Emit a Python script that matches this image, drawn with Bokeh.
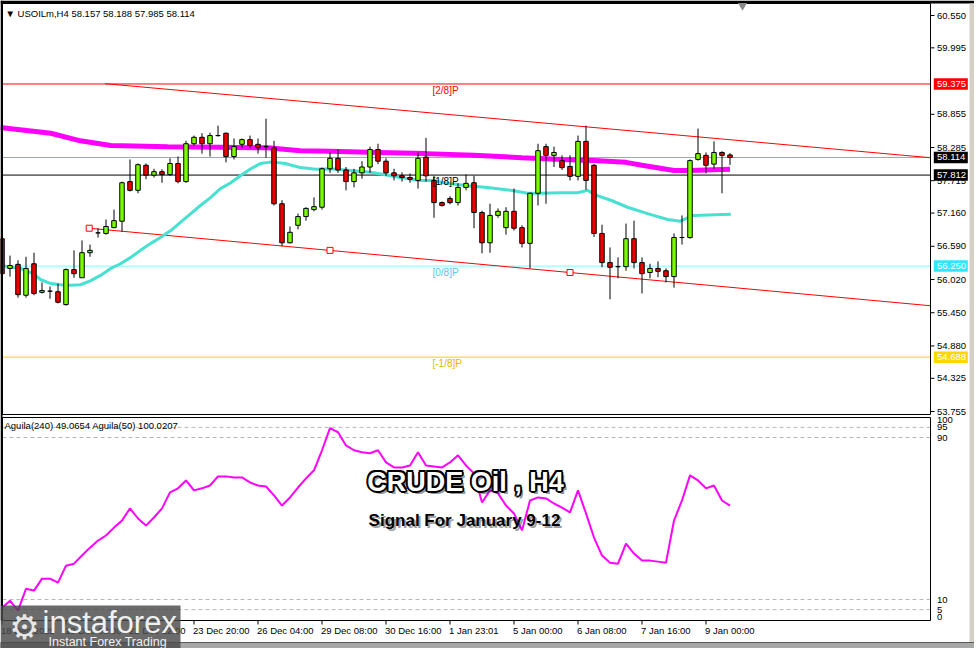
from bokeh.plotting import figure
from bokeh.models import Range1d, ColumnDataSource
from bokeh.core.properties import value
from bokeh.embed import file_html
from bokeh.resources import INLINE

# ---------------- data ----------------
opens = [56.72, 56.21, 56.28, 55.75, 56.29, 55.80, 55.82, 55.81, 55.59, 56.19,
         56.05, 56.48, 56.82, 56.81, 56.91, 57.02, 57.70, 57.55, 57.98, 57.81,
         57.87, 57.82, 58.01, 57.70, 58.35, 58.46, 58.35, 58.49, 58.53, 58.13,
         58.34, 58.42, 58.34, 58.30, 58.28, 57.32, 56.65, 56.95, 57.10, 57.22,
         57.26, 57.92, 58.10, 57.90, 57.70, 57.85, 57.95, 58.25, 58.05, 57.85,
         57.80, 57.77, 57.72, 58.12, 57.72, 57.34, 57.41, 57.34, 57.60, 57.68,
         57.17, 56.65, 57.12, 56.91, 57.19, 56.91, 56.64, 57.50, 58.30, 58.15,
         58.06, 57.96, 57.79, 58.39, 57.98, 56.81, 56.31, 56.24, 56.24, 56.72,
         56.31, 56.14, 56.21, 56.17, 56.07, 56.74, 56.74, 58.08, 58.15, 58.00,
         58.20, 58.157]
highs = [56.80, 56.43, 56.35, 56.41, 56.48, 55.97, 55.90, 55.95, 56.21, 56.52,
         56.69, 56.62, 56.90, 57.05, 57.22, 57.70, 58.08, 58.01, 58.01, 57.92,
         57.91, 58.10, 58.13, 58.40, 58.49, 58.53, 58.54, 58.66, 58.54, 58.44,
         58.44, 58.49, 58.44, 58.78, 58.40, 57.38, 56.93, 57.15, 57.26, 57.43,
         57.94, 58.20, 58.25, 57.95, 57.92, 58.05, 58.30, 58.35, 58.10, 57.92,
         57.86, 57.84, 58.20, 58.45, 57.80, 57.36, 57.45, 57.67, 57.82, 57.80,
         57.20, 57.32, 57.24, 57.26, 57.58, 56.95, 57.51, 58.35, 58.35, 58.30,
         58.15, 58.15, 58.49, 58.66, 58.00, 56.96, 56.57, 56.40, 56.98, 57.03,
         56.40, 56.29, 56.33, 56.21, 56.81, 57.12, 58.08, 58.61, 58.20, 58.39,
         58.22, 58.188]
lows = [56.05, 56.07, 55.71, 55.71, 55.75, 55.78, 55.69, 55.61, 55.57, 56.05,
        56.05, 56.41, 56.74, 56.79, 56.90, 56.84, 57.53, 57.50, 57.74, 57.77,
        57.68, 57.80, 57.67, 57.68, 58.32, 58.18, 58.13, 58.47, 58.03, 58.08,
        58.28, 58.27, 58.18, 58.11, 57.29, 56.59, 56.64, 56.88, 57.03, 57.19,
        57.22, 57.85, 57.85, 57.55, 57.60, 57.75, 57.85, 58.00, 57.80, 57.72,
        57.70, 57.68, 57.58, 57.70, 57.08, 57.27, 57.31, 57.29, 57.55, 56.90,
        56.47, 56.48, 57.08, 56.79, 56.86, 56.57, 56.21, 57.29, 57.32, 57.95,
        57.90, 57.72, 57.72, 57.56, 56.75, 56.23, 55.68, 56.04, 56.17, 56.21,
        55.78, 56.04, 56.06, 55.97, 55.88, 56.62, 56.72, 58.06, 57.84, 57.92,
        57.50, 57.985]
closes = [56.12, 56.26, 55.76, 56.21, 55.78, 55.83, 55.82, 55.63, 56.19, 56.12,
          56.48, 56.52, 56.82, 56.93, 57.03, 57.68, 57.55, 57.99, 57.81, 57.87,
          57.82, 58.01, 57.70, 58.35, 58.46, 58.35, 58.49, 58.49, 58.13, 58.30,
          58.42, 58.32, 58.28, 58.30, 57.32, 56.65, 56.83, 57.10, 57.24, 57.27,
          57.92, 58.10, 57.90, 57.70, 57.85, 57.95, 58.25, 58.05, 57.85, 57.80,
          57.77, 57.74, 58.10, 57.80, 57.34, 57.29, 57.34, 57.60, 57.67, 57.17,
          56.65, 57.12, 57.19, 57.19, 56.90, 56.64, 57.50, 58.23, 58.15, 58.20,
          57.94, 57.79, 58.39, 57.72, 56.81, 56.31, 56.23, 56.24, 56.72, 56.31,
          56.12, 56.21, 56.16, 56.07, 56.74, 56.74, 58.06, 58.18, 57.98, 58.20,
          58.15, 58.114]

# slow moving average (magenta) read at bar positions
ma_slow_x = [-0.2, 6.1, 9.8, 13.6, 20.7, 27.0, 33.2, 37.3, 41.1, 47.0, 53.0,
             59.0, 65.0, 70.0, 74.0, 78.0, 80.0, 84.0, 86.0, 91.0]
ma_slow_y = [58.63, 58.53, 58.40, 58.32, 58.30, 58.29, 58.28, 58.23, 58.22, 58.20, 58.18,
             58.15, 58.11, 58.08, 58.06, 58.03, 57.98, 57.89, 57.89, 57.91]
# fast moving average (turquoise)
ma_fast_x = [-0.2, 2.3, 3.9, 4.8, 6.1, 7.3, 8.6, 9.8, 11.1, 12.3, 13.6, 14.8, 16.1,
             17.3, 18.6, 19.8, 21.1, 22.3, 23.6, 24.8, 26.1, 27.3, 28.6, 29.8, 31.1,
             32.3, 33.3, 34.2, 35.4, 37.3, 39.2, 41.1, 43.6, 46.1, 48.6, 49.8, 52.3,
             53.9, 55.2, 58.2, 60.7, 63.6, 65.7, 67.3, 69.8, 71.9, 73.2, 74.4, 76.1,
             78.2, 80.7, 83.2, 84.8, 86.4, 91.1]
ma_fast_y = [56.26, 56.21, 56.12, 56.02, 55.95, 55.93, 55.92, 55.93, 56.00, 56.09, 56.21,
             56.29, 56.40, 56.52, 56.64, 56.74, 56.86, 57.00, 57.15, 57.29, 57.43, 57.58,
             57.68, 57.80, 57.92, 58.01, 58.03, 58.03, 58.01, 57.94, 57.91, 57.92, 57.89,
             57.86, 57.80, 57.77, 57.72, 57.72, 57.68, 57.63, 57.60, 57.55, 57.50, 57.50,
             57.51, 57.51, 57.55, 57.46, 57.38, 57.26, 57.15, 57.05, 57.02, 57.12, 57.14]

chan_up_x = [12.9, 116.06]
chan_up_y = [59.38, 58.11]
chan_lo_x = [10.9, 116.06]
chan_lo_y = [56.90, 55.57]
chan_mark_x = [10.9, 41.0, 71.0]
chan_mark_y = [56.90, 56.52, 56.14]

level_values = [59.375, 57.812, 56.250, 54.688]
level_names = ["[2/8]P", "[1/8]P", "[0/8]P", "[-1/8]P"]
bid_price = 58.114

price_ticks = [60.550, 59.995, 58.855, 58.285, 57.715, 57.160, 56.590,
               56.020, 55.450, 54.880, 54.325, 53.755]

aguila = [5.9, 9.4, 4.5, 15.3, 14.4, 20.3, 20.3, 18.3, 26.7, 27.7,
          31.7, 35.6, 39.1, 41.6, 45.5, 49.0, 55.0, 50.0, 46.5, 50.5,
          55.0, 62.9, 64.9, 68.8, 63.9, 64.9, 66.3, 70.8, 70.8, 70.3,
          70.3, 67.8, 66.3, 65.8, 61.4, 56.4, 60.4, 65.3, 69.8, 73.8,
          83.7, 94.6, 92.6, 86.1, 83.7, 82.7, 82.2, 83.7, 77.7, 75.2,
          75.2, 76.2, 82.7, 76.2, 75.7, 75.2, 77.7, 81.2, 76.2, 72.3,
          57.9, 63.9, 62.4, 56.4, 52.5, 44.1, 58.9, 60.4, 59.9, 57.4,
          55.4, 53.0, 63.9, 52.5, 40.6, 31.7, 28.2, 27.7, 37.6, 32.7,
          29.2, 29.2, 28.7, 28.2, 49.0, 58.9, 71.3, 68.8, 64.9, 66.3,
          58.9, 56.4]
aguila_levels = [95, 90, 10, 5]
aguila_ticks = [100, 95, 90, 10, 5, 0]

x_tick_idx = [0, 8, 16, 24, 32, 40, 48, 56, 64, 72, 80, 88]
x_tick_labels = ["18 Dec 2025", "19 Dec 08:00", "22 Dec 12:00", "23 Dec 20:00",
                 "26 Dec 04:00", "29 Dec 08:00", "30 Dec 16:00", "1 Jan 23:01",
                 "5 Jan 00:00", "6 Jan 08:00", "7 Jan 16:00", "9 Jan 00:00"]

# ---------------- layout helpers (canvas pixels -> scales) ----------------
W, H = 974, 648
BAR_PX, BAR0_PX = 8.0, 1.5          # bar spacing / canvas x of bar 0
P_REF, P_REF_Y, P_PX = 60.55, 15.0, 58.28   # price scale
I_ZERO_Y, I_PX = 619.25, 2.025       # indicator scale


def bx(xpx):
    return (xpx - BAR0_PX) / BAR_PX


def py(ypx):
    return P_REF - (ypx - P_REF_Y) / P_PX


def iv(ypx):
    return (I_ZERO_Y - ypx) / I_PX


FONT = "Liberation Sans"
FS = "9.5px"
UP = "#7CFC00"
DOWN = "#EE0000"
PANE_L, PANE_R = bx(2), bx(930)

p = figure(width=W, height=H, x_range=Range1d(bx(0), bx(W)), y_range=Range1d(py(H), py(0)),
           output_backend="svg", toolbar_location=None, x_axis_location=None,
           y_axis_location=None, min_border=0, min_border_left=0, min_border_right=0,
           min_border_top=0, min_border_bottom=0)
p.extra_y_ranges = {"ind": Range1d(iv(H), iv(0))}
p.grid.visible = False
p.outline_line_color = None
p.background_fill_color = "white"
p.border_fill_color = "white"

n = len(opens)
idx = list(range(n))
src = ColumnDataSource(dict(
    x=idx, o=opens, h=highs, l=lows, c=closes,
    top=[max(a, b) for a, b in zip(opens, closes)],
    bot=[min(a, b) for a, b in zip(opens, closes)],
    col=[UP if c >= o else DOWN for o, c in zip(opens, closes)],
))

# ---- price pane ----
level_line_colors = ["#FF0000", "#000000", "#7FFFFF", "#FFD000"]
level_text_colors = ["#FF0000", "#000000", "#55C8F8", "#F0B400"]
p.segment(x0=[PANE_L] * 4, x1=[PANE_R] * 4, y0=level_values, y1=level_values,
          line_color=level_line_colors, line_width=1)
p.segment(x0=[PANE_L], x1=[PANE_R], y0=[bid_price], y1=[bid_price],
          line_color="#9AA6B2", line_width=1)

p.line(chan_up_x, chan_up_y, line_color="#FF0000", line_width=1)
p.line(chan_lo_x, chan_lo_y, line_color="#FF0000", line_width=1)
p.scatter(chan_mark_x, chan_mark_y, marker="square", size=6, fill_color="white",
          line_color="#FF0000", line_width=1)

p.line(ma_slow_x, ma_slow_y, line_color="#FF00FF", line_width=5)
p.line(ma_fast_x, ma_fast_y, line_color="#48E0D0", line_width=3)

p.segment(x0="x", y0="l", x1="x", y1="h", source=src, line_color="black", line_width=1)
p.vbar(x="x", width=0.56, top="top", bottom="bot", source=src, fill_color="col",
       line_color="black", line_width=1)

p.text(x=[bx(432)] * 4, y=level_values, text=level_names, text_color=level_text_colors,
       text_font=value(FONT), text_font_size="10px", text_align="left",
       text_baseline="top", y_offset=1)

p.text(x=[bx(5)], y=[py(13)], text=["\u25BC USOILm,H4  58.157 58.188 57.985 58.114"],
       text_font=value(FONT), text_font_size="9.5px", text_color="black",
       text_baseline="middle", text_align="left")

# ---- indicator pane ----
p.segment(x0=[PANE_L] * 4, x1=[PANE_R] * 4, y0=aguila_levels, y1=aguila_levels,
          line_color="#B8B8B8", line_dash="4 3", line_width=1, y_range_name="ind")
p.line(idx, aguila, line_color="#FF00FF", line_width=2, y_range_name="ind")
p.text(x=[bx(4)], y=[iv(425)], text=["Aguila(240) 49.0654  Aguila(50) 100.0207"],
       text_font=value(FONT), text_font_size="9.5px", text_color="black",
       text_baseline="middle", text_align="left", y_range_name="ind")

# ---- pane frames and window chrome ----
p.quad(left=[PANE_L], right=[PANE_R], top=[py(3)], bottom=[py(414)],
       fill_color=None, line_color="black", line_width=1)
p.quad(left=[PANE_L], right=[PANE_R], top=[iv(417)], bottom=[iv(620)],
       fill_color=None, line_color="black", line_width=1, y_range_name="ind")
p.quad(left=[bx(0)], right=[bx(W)], top=[py(0)], bottom=[py(3)],
       fill_color="black", line_color=None)
p.quad(left=[bx(0)], right=[bx(2)], top=[py(0)], bottom=[py(620)],
       fill_color="black", line_color=None)
p.quad(left=[bx(969)], right=[bx(W)], top=[py(3)], bottom=[py(H)],
       fill_color="#D4D0C8", line_color=None)
p.quad(left=[bx(0)], right=[bx(W)], top=[py(642)], bottom=[py(H)],
       fill_color="#A8A8A8", line_color="#5A5A5A", line_width=1)
p.scatter([bx(742)], [py(5)], marker="inverted_triangle", size=9,
          fill_color="#8A8A8A", line_color=None)

# ---- price scale (right) ----
p.segment(x0=[PANE_R] * len(price_ticks), x1=[bx(934)] * len(price_ticks),
          y0=price_ticks, y1=price_ticks, line_color="black", line_width=1)
p.text(x=[bx(936.5)] * len(price_ticks), y=price_ticks,
       text=[f"{t:.3f}" for t in price_ticks], text_font=value(FONT),
       text_font_size=FS, text_color="black", text_align="left", text_baseline="middle")

tag_vals = [59.375, bid_price, 57.812, 56.250, 54.688]
tag_bg = ["#FF0000", "#000000", "#000000", "#33E6FF", "#FFD700"]
p.rect(x=[bx(950.3)] * 5, y=tag_vals, width=34 / BAR_PX, height=11.5 / P_PX,
       fill_color=tag_bg, line_color=None)
p.text(x=[bx(936.5)] * 5, y=tag_vals, text=[f"{v:.3f}" for v in tag_vals],
       text_font=value(FONT), text_font_size=FS, text_color="white",
       text_align="left", text_baseline="middle")

# ---- indicator scale (right) ----
ind_base = ["top", "middle", "middle", "middle", "middle", "bottom"]
p.text(x=[bx(936.5)] * 6, y=aguila_ticks, text=[str(t) for t in aguila_ticks],
       text_font=value(FONT), text_font_size=FS, text_color="black", text_align="left",
       text_baseline=ind_base, y_range_name="ind")

# ---- time scale (bottom) ----
p.segment(x0=x_tick_idx, x1=x_tick_idx, y0=[iv(620)] * len(x_tick_idx),
          y1=[iv(624)] * len(x_tick_idx), line_color="black", line_width=1,
          y_range_name="ind")
p.text(x=x_tick_idx, y=[iv(624)] * len(x_tick_idx), text=x_tick_labels,
       text_font=value(FONT), text_font_size=FS, text_color="black", text_align="left",
       text_baseline="top", x_offset=-1, y_range_name="ind")

# ---- overlay title (outlined, shadowed) ----
def outlined(x, y, text, size, fill, outline, shadow, sh=3, w=2.0):
    common = dict(text_font=value(FONT), text_font_style="bold", text_font_size=size,
                  text_align="center", text_baseline="middle", y_range_name="ind")
    p.text(x=[x], y=[y], text=[text], text_color=shadow, text_alpha=0.5,
           x_offset=sh, y_offset=sh, **common)
    if outline is not None:
        d = w * 0.7
        for dx, dy in [(-w, 0), (w, 0), (0, -w), (0, w), (-d, -d), (d, d), (-d, d), (d, -d)]:
            p.text(x=[x], y=[y], text=[text], text_color=outline, x_offset=dx,
                   y_offset=dy, **common)
    p.text(x=[x], y=[y], text=[text], text_color=fill, **common)


outlined(bx(465), iv(481), "CRUDE Oil , H4", "27px", "white", "black", "#303030", sh=3, w=2.0)
outlined(bx(464), iv(520), "Signal For January 9-12", "17px", "black", None, "#404040", sh=2)

# ---- logo ----
p.quad(left=[bx(0)], right=[bx(180)], top=[iv(605)], bottom=[iv(H)],
       fill_color="#4A4A4A", fill_alpha=0.82, line_color=None, y_range_name="ind")
p.text(x=[bx(24)], y=[iv(626)], text=["\u2699"], text_font=value("DejaVu Sans"),
       text_font_size="34px", text_color="#E6E6E6", text_align="center",
       text_baseline="middle", y_range_name="ind")
p.text(x=[bx(42)], y=[iv(622)], text=["instaforex"], text_font=value(FONT),
       text_font_size="31px", text_color="#F0F0F0", text_align="left",
       text_baseline="middle", y_range_name="ind")
p.text(x=[bx(48)], y=[iv(641)], text=["Instant Forex Trading"], text_font=value(FONT),
       text_font_size="12.5px", text_color="#F0F0F0", text_align="left",
       text_baseline="middle", y_range_name="ind")

open("out.html", "w").write(file_html(p, INLINE))
